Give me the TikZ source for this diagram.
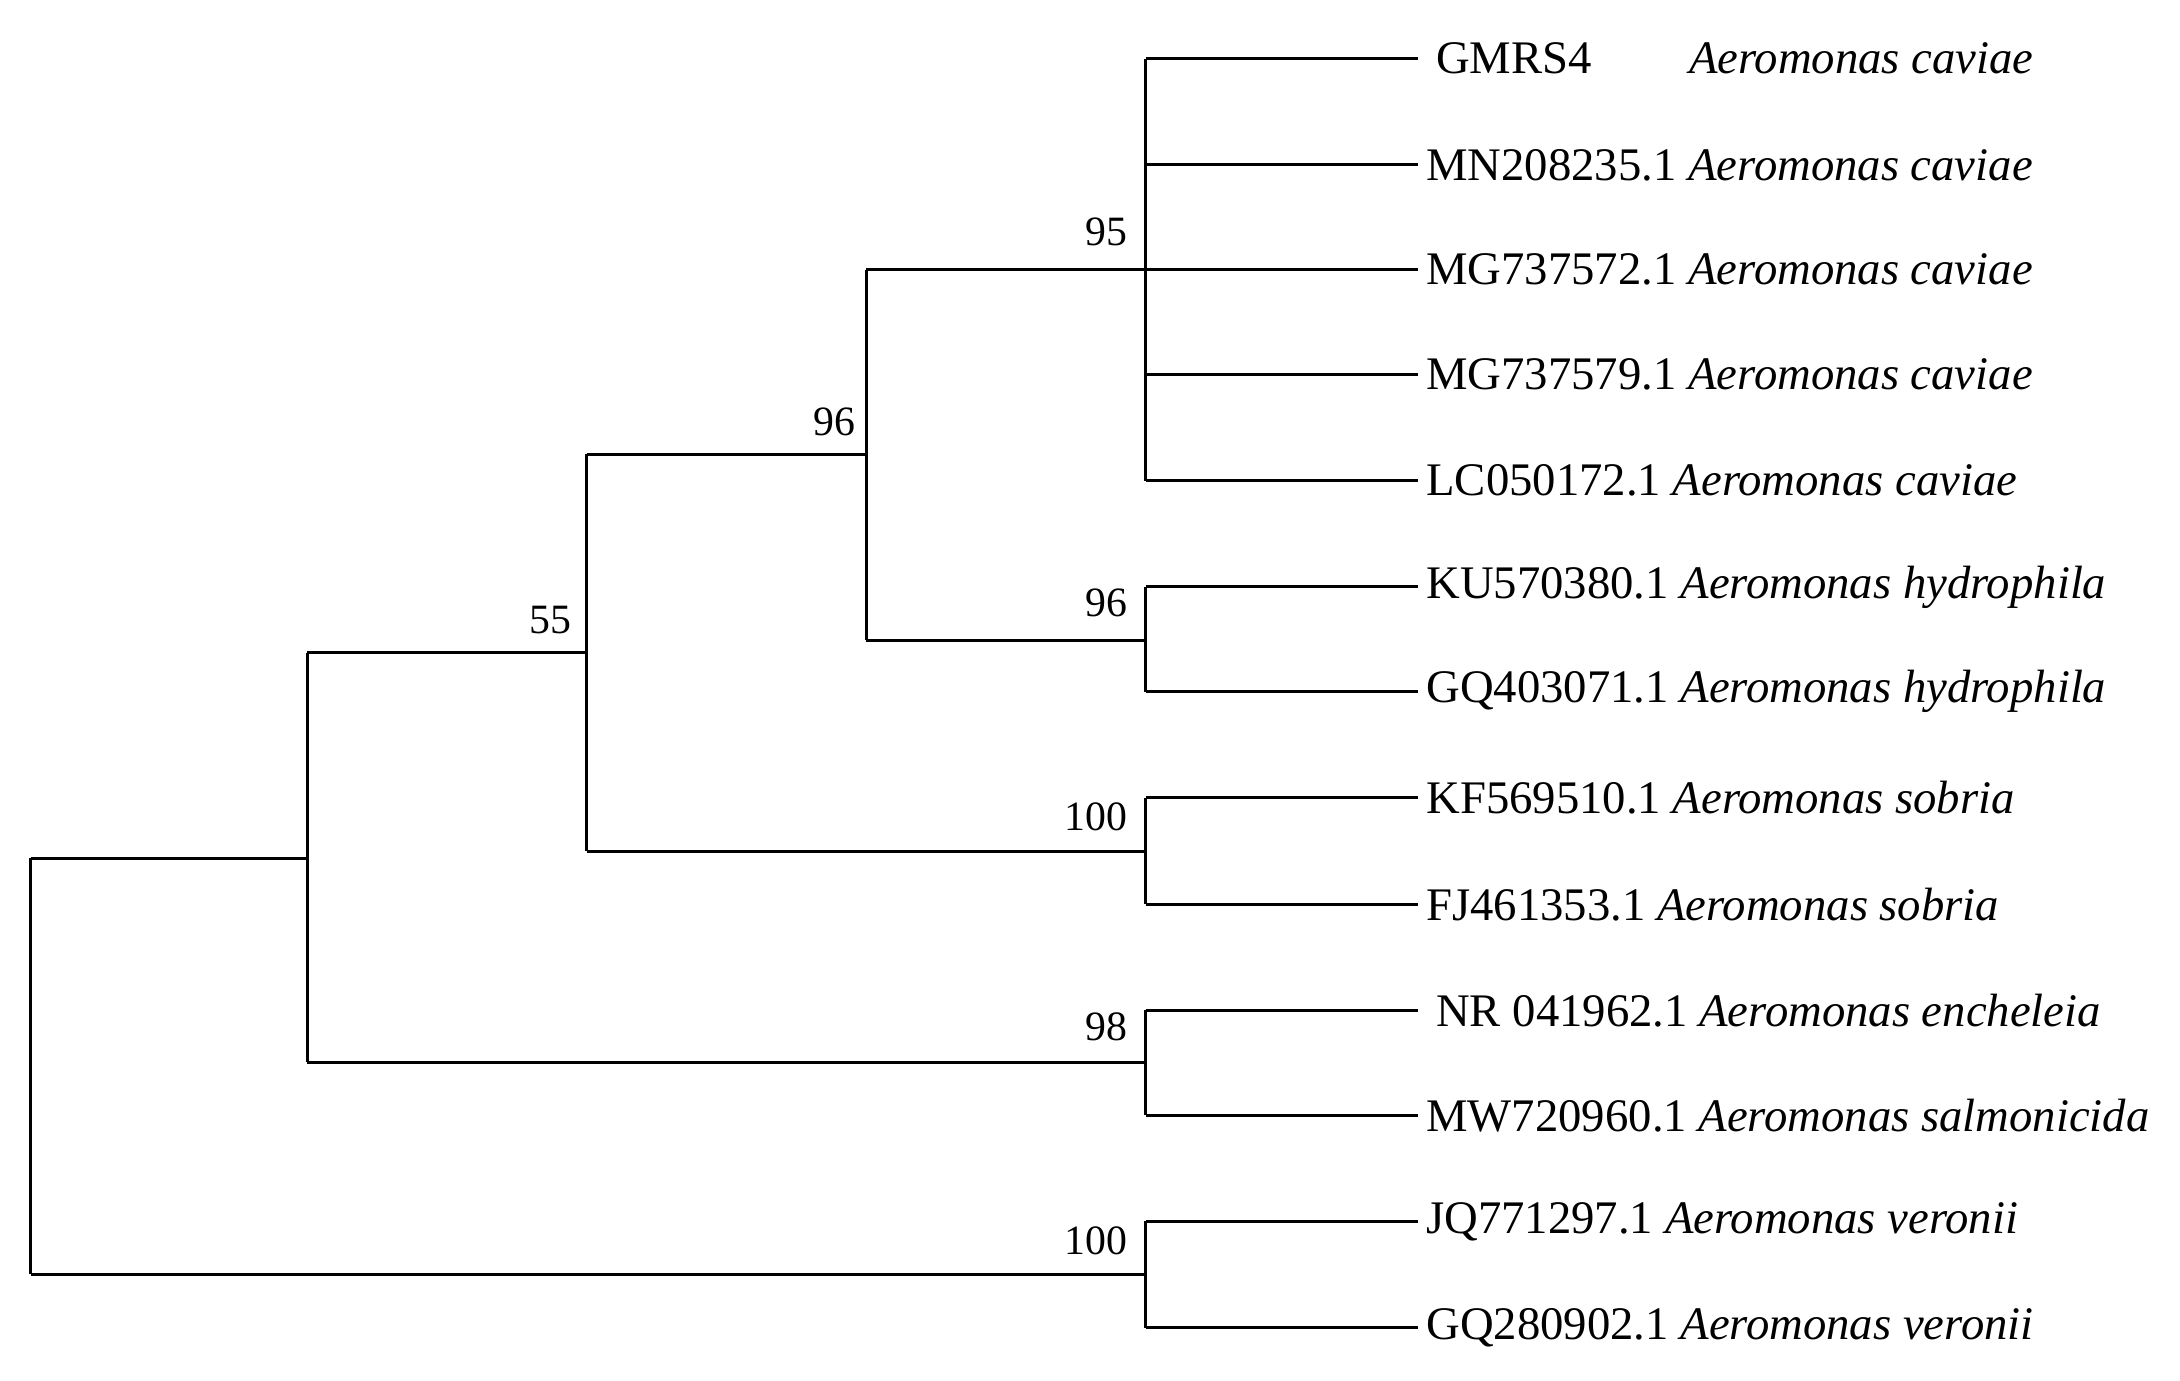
\documentclass[tikz,border=0pt]{standalone}
\usepackage{fontspec}
\setmainfont{Liberation Serif}
\begin{document}
\begin{tikzpicture}[x=0.01cm,y=-0.01cm,
 br/.style={line width=0.6pt},
 lab/.style={anchor=west,inner sep=0,font=\fontsize{9.5}{12}\selectfont},
 bs/.style={anchor=south east,inner sep=1pt,font=\fontsize{8.5}{10}\selectfont}]
\useasboundingbox (0,0) rectangle (1560,988);
\foreach \n/\y in {a/42,b/118,c/193,d/268,e/344,f/420,g/495,h/571,i/647,j/723,k/798,l/874,m/950}
  \coordinate (\n) at (1015,\y);
\coordinate (n95) at (820,193);
\coordinate (n96h) at (820,458);
\coordinate (n96) at (620,325);
\coordinate (n100s) at (820,609);
\coordinate (n55) at (420,467);
\coordinate (n98) at (820,760);
\coordinate (nin) at (220,614);
\coordinate (n100v) at (820,912);
\coordinate (root) at (22,763);
\foreach \n in {a,b,c,d,e} \draw[br] (n95 |- \n) -- (\n);
\draw[br] (n95 |- a) -- (n95 |- e);
\foreach \n in {f,g} \draw[br] (n96h |- \n) -- (\n);
\draw[br] (n96h |- f) -- (n96h |- g);
\draw[br] (n96 |- n95) -- (n95);
\draw[br] (n96 |- n96h) -- (n96h);
\draw[br] (n96 |- n95) -- (n96 |- n96h);
\foreach \n in {h,i} \draw[br] (n100s |- \n) -- (\n);
\draw[br] (n100s |- h) -- (n100s |- i);
\draw[br] (n55 |- n96) -- (n96);
\draw[br] (n55 |- n100s) -- (n100s);
\draw[br] (n55 |- n96) -- (n55 |- n100s);
\foreach \n in {j,k} \draw[br] (n98 |- \n) -- (\n);
\draw[br] (n98 |- j) -- (n98 |- k);
\draw[br] (nin |- n55) -- (n55);
\draw[br] (nin |- n98) -- (n98);
\draw[br] (nin |- n55) -- (nin |- n98);
\foreach \n in {l,m} \draw[br] (n100v |- \n) -- (\n);
\draw[br] (n100v |- l) -- (n100v |- m);
\draw[br] (root |- nin) -- (nin);
\draw[br] (root |- n100v) -- (n100v);
\draw[br] (root |- nin) -- (root |- n100v);
\node[bs] (b1) at (811,180) {95};
\node[bs] (b2) at (811,446) {96};
\node[bs] (b3) at (616,316) {96};
\node[bs] (b4) at (811,599) {100};
\node[bs] (b5) at (413,458) {55};
\node[bs] (b6) at (811,749) {98};
\node[bs] (b7) at (811,902) {100};
\node[lab] (ta) at (1027,42) {GMRS4};
\node[lab] (ta2) at (1208,42) {\itshape Aeromonas caviae};
\node[lab] (tb) at (1020,118) {MN208235.1 \itshape Aeromonas caviae};
\node[lab] (tc) at (1020,193) {MG737572.1 \itshape Aeromonas caviae};
\node[lab] (td) at (1020,268) {MG737579.1 \itshape Aeromonas caviae};
\node[lab] (te) at (1020,344) {LC050172.1 \itshape Aeromonas caviae};
\node[lab] (tf) at (1020,420) {KU570380.1 \itshape Aeromonas hydrophila};
\node[lab] (tg) at (1020,495) {GQ403071.1 \itshape Aeromonas hydrophila};
\node[lab] (th) at (1020,571) {KF569510.1 \itshape Aeromonas sobria};
\node[lab] (ti) at (1020,647) {FJ461353.1 \itshape Aeromonas sobria};
\node[lab] (tj) at (1027,723) {NR 041962.1 \itshape Aeromonas encheleia};
\node[lab] (tk) at (1020,798) {MW720960.1 \itshape Aeromonas salmonicida};
\node[lab] (tl) at (1020,874) {JQ771297.1 \itshape Aeromonas veronii};
\node[lab] (tm) at (1020,950) {GQ280902.1 \itshape Aeromonas veronii};
\end{tikzpicture}
\end{document}
